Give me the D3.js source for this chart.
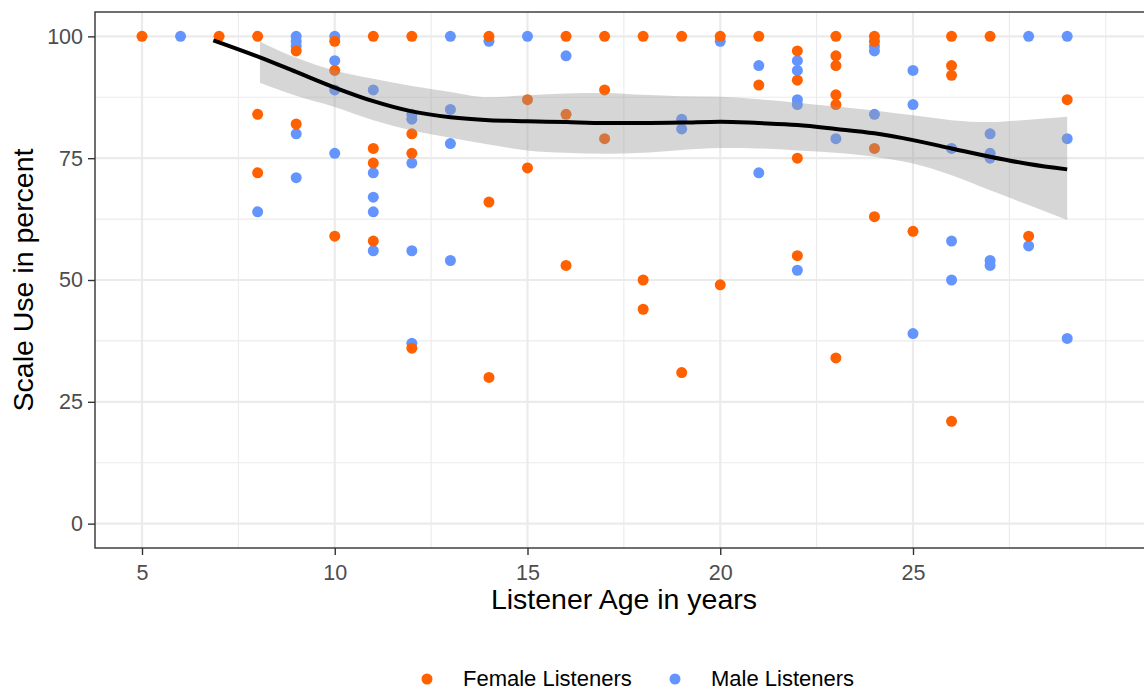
<!DOCTYPE html>
<html>
<head>
<meta charset="utf-8">
<script src="https://cdn.jsdelivr.net/npm/d3@7"></script>
<style>
  body { margin: 0; background: white; }
  text { font-family: "Liberation Sans", Arial, sans-serif; }
</style>
</head>
<body>
<div id="canvas"></div>
<script>
"use strict"

/* Configuration variables: drawing */
let svgWidth = 1144;
let svgHeight = 691;
let panelLeft = 95;
let panelRight = 1153;
let panelTop = 12;
let panelBottom = 548;

/* Data: age in years and scale use in percent */
let femaleAge = [5, 7, 8, 8, 8, 9, 9, 10, 10, 10, 11, 11, 11, 11, 12, 12, 12, 12,
    14, 14, 14, 15, 15, 16, 16, 16, 17, 17, 17, 18, 18, 18, 19, 19, 20, 20, 21, 21,
    22, 22, 22, 22, 23, 23, 23, 23, 23, 23, 24, 24, 24, 24, 25, 26, 26, 26, 26, 27, 28, 29];
let femaleScore = [100, 100, 100, 84, 72, 97, 82, 99, 93, 59, 100, 77, 74, 58, 100, 80, 76, 36,
    100, 66, 30, 87, 73, 100, 84, 53, 100, 89, 79, 100, 50, 44, 100, 31, 100, 49, 100, 90,
    97, 91, 75, 55, 100, 96, 94, 88, 86, 34, 100, 99, 77, 63, 60, 100, 94, 92, 21, 100, 59, 87];

let maleAge = [6, 8, 9, 9, 9, 9, 9, 10, 10, 10, 10, 11, 11, 11, 11, 11, 12, 12, 12, 12, 12,
    13, 13, 13, 13, 14, 15, 16, 19, 19, 20, 21, 21, 22, 22, 22, 22, 22, 23, 24, 24, 24,
    25, 25, 25, 26, 26, 26, 27, 27, 27, 27, 27, 28, 28, 29, 29, 29];
let maleScore = [100, 64, 100, 99, 98, 80, 71, 100, 95, 89, 76, 89, 72, 67, 64, 56, 84, 83, 74, 56, 37,
    100, 85, 78, 54, 99, 100, 96, 83, 81, 99, 94, 72, 95, 93, 87, 86, 52, 79, 98, 97, 84,
    93, 86, 39, 77, 58, 50, 80, 76, 75, 54, 53, 100, 57, 100, 79, 38];

/* Loess smooth with its confidence band */
let smoothAge = [6.85, 8.06, 9, 10, 11, 12, 13, 14, 15, 16, 17, 18, 19, 20, 21, 22, 23, 24, 25, 26, 27, 28, 29];
let smoothFit = [99.2, 95.7, 92.7, 89.5, 86.7, 84.6, 83.4, 82.8, 82.6, 82.4, 82.2, 82.2, 82.3, 82.5, 82.2, 81.8, 81.0, 80.1, 78.7, 77.0, 75.3, 73.8, 72.7];
let bandAge = [8.06, 9, 10, 11, 12, 13, 14, 15, 16, 17, 18, 19, 20, 21, 22, 23, 24, 25, 26, 27, 28, 29];
let bandLow = [90.5, 87.8, 85.5, 82.8, 80.7, 79.2, 77.8, 76.6, 76.1, 75.9, 76.1, 76.7, 77.1, 77.0, 76.6, 76.1, 75.3, 73.9, 71.5, 68.4, 65.4, 62.3];
let bandHigh = [98.9, 95.6, 93.0, 91.3, 89.8, 88.6, 87.5, 87.9, 88.3, 88.4, 88.0, 87.7, 87.6, 87.1, 86.4, 85.6, 84.8, 83.8, 82.8, 82.4, 82.9, 83.5];

/* Axis breaks */
let xMajor = [5, 10, 15, 20, 25];
let xMinor = [7.5, 12.5, 17.5, 22.5, 27.5, 30];
let yMajor = [0, 25, 50, 75, 100];
let yMinor = [12.5, 37.5, 62.5, 87.5];

let groups = ["Female Listeners", "Male Listeners"];
let groupColors = ["#FF6000", "#6495FF"];

/* Create drawing canvas */
let svg = d3.select("#canvas")
    .append("svg")
    .attr("width", svgWidth)
    .attr("height", svgHeight);

/* Define X and Y scales */
let xScale = d3.scaleLinear()
    .domain([5, 25])
    .range([142, 913]);

let yScale = d3.scaleLinear()
    .domain([-5, 105])
    .range([panelBottom, panelTop]);

/* grid lines */
let grid = svg.append("g");
grid.selectAll(".xminor").data(xMinor).join("line")
    .attr("x1", d => xScale(d)).attr("x2", d => xScale(d))
    .attr("y1", panelTop).attr("y2", panelBottom)
    .attr("stroke", "#EBEBEB").attr("stroke-width", 1.1);
grid.selectAll(".yminor").data(yMinor).join("line")
    .attr("x1", panelLeft).attr("x2", panelRight)
    .attr("y1", d => yScale(d)).attr("y2", d => yScale(d))
    .attr("stroke", "#EBEBEB").attr("stroke-width", 1.1);
grid.selectAll(".xmajor").data(xMajor).join("line")
    .attr("x1", d => xScale(d)).attr("x2", d => xScale(d))
    .attr("y1", panelTop).attr("y2", panelBottom)
    .attr("stroke", "#EBEBEB").attr("stroke-width", 2.2);
grid.selectAll(".ymajor").data(yMajor).join("line")
    .attr("x1", panelLeft).attr("x2", panelRight)
    .attr("y1", d => yScale(d)).attr("y2", d => yScale(d))
    .attr("stroke", "#EBEBEB").attr("stroke-width", 2.2);

/* points: male first, female on top */
let maleData = maleAge.map((a, i) => ({ age: a, score: maleScore[i] }));
let femaleData = femaleAge.map((a, i) => ({ age: a, score: femaleScore[i] }));

svg.append("g").selectAll("circle")
    .data(maleData)
    .join("circle")
    .attr("cx", d => xScale(d.age))
    .attr("cy", d => yScale(d.score))
    .attr("r", 5.5)
    .attr("fill", groupColors[1]);

svg.append("g").selectAll("circle")
    .data(femaleData)
    .join("circle")
    .attr("cx", d => xScale(d.age))
    .attr("cy", d => yScale(d.score))
    .attr("r", 5.5)
    .attr("fill", groupColors[0]);

/* confidence band */
let bandData = bandAge.map((a, i) => ({ age: a, lo: bandLow[i], hi: bandHigh[i] }));
let area = d3.area()
    .x(d => xScale(d.age))
    .y0(d => yScale(d.lo))
    .y1(d => yScale(d.hi))
    .curve(d3.curveMonotoneX);
svg.append("path")
    .datum(bandData)
    .attr("d", area)
    .attr("fill", "#999999")
    .attr("opacity", 0.4);

/* smooth line */
let lineData = smoothAge.map((a, i) => ({ age: a, fit: smoothFit[i] }));
let line = d3.line()
    .x(d => xScale(d.age))
    .y(d => yScale(d.fit))
    .curve(d3.curveMonotoneX);
svg.append("path")
    .datum(lineData)
    .attr("d", line)
    .attr("fill", "none")
    .attr("stroke", "black")
    .attr("stroke-width", 4);

/* panel border */
svg.append("rect")
    .attr("x", panelLeft)
    .attr("y", panelTop)
    .attr("width", panelRight - panelLeft)
    .attr("height", panelBottom - panelTop)
    .attr("fill", "none")
    .attr("stroke", "#333333")
    .attr("stroke-width", 1.4);

/* axes */
let xAxis = svg.append("g")
    .attr("transform", "translate(0," + panelBottom + ")")
    .call(d3.axisBottom(xScale).tickValues(xMajor).tickSize(7).tickPadding(10));
let yAxis = svg.append("g")
    .attr("transform", "translate(" + panelLeft + ",0)")
    .call(d3.axisLeft(yScale).tickValues(yMajor).tickSize(7).tickPadding(5));

[xAxis, yAxis].forEach(function (ax) {
    ax.select(".domain").remove();
    ax.selectAll(".tick line").attr("stroke", "#333333").attr("stroke-width", 1.4);
    ax.selectAll(".tick text")
        .attr("fill", "#4D4D4D")
        .style("font-size", "21.5px")
        .style("font-family", "'Liberation Sans', Arial, sans-serif");
});
xAxis.selectAll(".tick text").attr("dy", "0.71em");

/**** label the axes ****/
svg.append("text")
    .attr("x", (panelLeft + panelRight) / 2)
    .attr("y", 609)
    .attr("text-anchor", "middle")
    .style("font-size", "28.5px")
    .text("Listener Age in years");

svg.append("text")
    .attr("transform", "translate(33," + ((panelTop + panelBottom) / 2) + ") rotate(-90)")
    .attr("text-anchor", "middle")
    .style("font-size", "28.5px")
    .text("Scale Use in percent");

/* legend */
let legendX = [427, 675];
for (let i = 0; i < 2; i++) {
    svg.append("circle")
        .attr("cx", legendX[i])
        .attr("cy", 679)
        .attr("r", 5.5)
        .attr("fill", groupColors[i]);
    svg.append("text")
        .attr("x", legendX[i] + 36)
        .attr("y", 686)
        .style("font-size", "22px")
        .text(groups[i]);
};
</script>
</body>
</html>
